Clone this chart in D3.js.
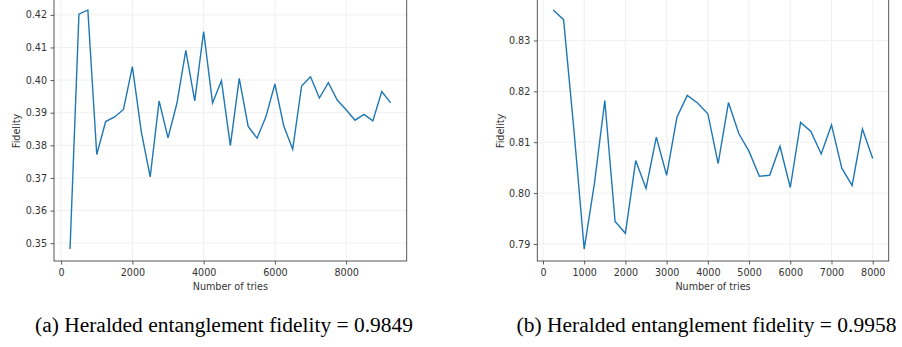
<!DOCTYPE html>
<html>
<head>
<meta charset="utf-8">
<script src="https://cdn.jsdelivr.net/npm/d3@7"></script>
<style>
  html, body { margin: 0; padding: 0; background: #fff; }
  svg { display: block; }
  .tick text { font-family: "DejaVu Sans", sans-serif; font-size: 9.6px; fill: #333; }
  .lbl { font-family: "DejaVu Sans", sans-serif; font-size: 9.6px; fill: #333; }
  .cap { font-family: "Liberation Serif", serif; font-size: 20.5px; fill: #000; }
</style>
</head>
<body>
<svg id="fig" width="902" height="347"></svg>
<script>
// Number of tries (x) for each run
const triesA = d3.range(250, 9251, 250);
const triesB = d3.range(250, 8001, 250);

// Measured fidelity per run
const fidelityA = [
  0.3482, 0.4202, 0.4215, 0.3772, 0.3873, 0.3887, 0.3910, 0.4041, 0.3842, 0.3703,
  0.3936, 0.3823, 0.3929, 0.4091, 0.3936, 0.4149, 0.3930, 0.3998, 0.3799, 0.4005,
  0.3858, 0.3822, 0.3888, 0.3988, 0.3859, 0.3788, 0.3982, 0.4010, 0.3945, 0.3992,
  0.3939, 0.3909, 0.3877, 0.3895, 0.3875, 0.3965, 0.3930
];
const fidelityB = [
  0.8360, 0.8341, 0.8125, 0.7890, 0.8020, 0.8182, 0.7944, 0.7921, 0.8064, 0.8009,
  0.8110, 0.8035, 0.8149, 0.8192, 0.8177, 0.8156, 0.8058, 0.8178, 0.8117, 0.8082,
  0.8033, 0.8035, 0.8092, 0.8011, 0.8139, 0.8121, 0.8077, 0.8134, 0.8049, 0.8015,
  0.8126, 0.8068
];

// Tick values
const xTicksA = [0, 2000, 4000, 6000, 8000];
const yTicksA = [0.35, 0.36, 0.37, 0.38, 0.39, 0.40, 0.41, 0.42];
const xTicksB = [0, 1000, 2000, 3000, 4000, 5000, 6000, 7000, 8000];
const yTicksB = [0.79, 0.80, 0.81, 0.82, 0.83];

const captionA = "(a) Heralded entanglement fidelity = 0.9849";
const captionB = "(b) Heralded entanglement fidelity = 0.9958";

const svg = d3.select("#fig");

// Domain padded by 5% on each side of the data range
function padded(values) {
  const [lo, hi] = d3.extent(values);
  const m = (hi - lo) * 0.05;
  return [lo - m, hi + m];
}

function panel(opts) {
  const { xs, ys, xTicks, yTicks, left, right, top, bottom, ylabelX, caption, capX, capW } = opts;
  const x = d3.scaleLinear().domain(padded(xs)).range([left, right]);
  const y = d3.scaleLinear().domain(padded(ys)).range([bottom, top]);
  const g = svg.append("g");

  // grid
  g.append("g").selectAll("line.gx").data(xTicks).join("line")
    .attr("x1", d => x(d)).attr("x2", d => x(d))
    .attr("y1", top).attr("y2", bottom)
    .attr("stroke", "#eeeeee").attr("stroke-width", 0.9);
  g.append("g").selectAll("line.gy").data(yTicks).join("line")
    .attr("x1", left).attr("x2", right)
    .attr("y1", d => y(d)).attr("y2", d => y(d))
    .attr("stroke", "#eeeeee").attr("stroke-width", 0.9);

  // series line
  const pts = xs.map((v, i) => [v, ys[i]]);
  g.append("path")
    .datum(pts)
    .attr("fill", "none")
    .attr("stroke", "#1f77b4")
    .attr("stroke-width", 1.4)
    .attr("stroke-linejoin", "miter")
    .attr("d", d3.line().x(d => x(d[0])).y(d => y(d[1])));

  // axes
  const xAxis = g.append("g").attr("transform", `translate(0,${bottom})`)
    .call(d3.axisBottom(x).tickValues(xTicks).tickFormat(d3.format("d")).tickSize(3.5).tickPadding(4.5).tickSizeOuter(0));
  const yAxis = g.append("g").attr("transform", `translate(${left},0)`)
    .call(d3.axisLeft(y).tickValues(yTicks).tickFormat(d3.format(".2f")).tickSize(3.5).tickPadding(3.5).tickSizeOuter(0));
  [xAxis, yAxis].forEach(a => {
    a.select(".domain").remove();
    a.selectAll(".tick line").attr("stroke", "#333").attr("stroke-width", 0.8);
  });

  // frame
  g.append("rect")
    .attr("x", left).attr("y", top)
    .attr("width", right - left).attr("height", bottom - top)
    .attr("fill", "none").attr("stroke", "#444").attr("stroke-width", 0.9);

  // axis labels
  g.append("text").attr("class", "lbl")
    .attr("x", (left + right) / 2).attr("y", 289.5)
    .attr("text-anchor", "middle")
    .text("Number of tries");
  g.append("text").attr("class", "lbl")
    .attr("transform", `translate(${ylabelX},131) rotate(-90)`)
    .attr("text-anchor", "middle")
    .text("Fidelity");

  // caption
  svg.append("text").attr("class", "cap")
    .attr("x", capX).attr("y", 331.5)
    .attr("textLength", capW).attr("lengthAdjust", "spacingAndGlyphs")
    .text(caption);
}

panel({
  xs: triesA, ys: fidelityA, xTicks: xTicksA, yTicks: yTicksA,
  left: 54, right: 406.7, top: -2, bottom: 261, ylabelX: 20.3,
  caption: captionA, capX: 35, capW: 378
});
panel({
  xs: triesB, ys: fidelityB, xTicks: xTicksB, yTicks: yTicksB,
  left: 537.3, right: 888.7, top: -2, bottom: 261, ylabelX: 503.5,
  caption: captionB, capX: 516.5, capW: 380
});
</script>
</body>
</html>
